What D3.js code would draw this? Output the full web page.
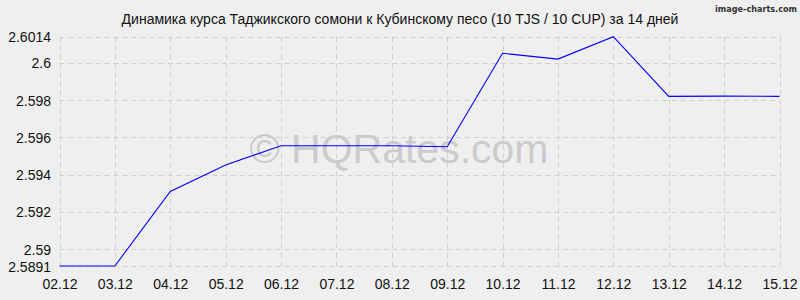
<!DOCTYPE html>
<html><head><meta charset="utf-8">
<script src="https://cdn.jsdelivr.net/npm/d3@7"></script>
<style>body{margin:0;background:#efefef;}svg{display:block;}</style>
</head><body>
<script>
const categories = ["02.12","03.12","04.12","05.12","06.12","07.12","08.12","09.12","10.12","11.12","12.12","13.12","14.12","15.12"];
const values = [2.5891,2.5891,2.5931,2.59452,2.59555,2.59555,2.59555,2.5955,2.60051,2.6002,2.6014,2.5982,2.59821,2.5982];
const yTicks = [2.5891,2.59,2.592,2.594,2.596,2.598,2.6,2.6014];
const yTickLabels = ["2.5891","2.59","2.592","2.594","2.596","2.598","2.6","2.6014"];
const title = "Динамика курса Таджикского сомони к Кубинскому песо (10 TJS / 10 CUP) за 14 дней";

const W=800,H=300;
const svg=d3.select("body").append("svg").attr("width",W).attr("height",H);
svg.append("rect").attr("width",W).attr("height",H).attr("fill","#efefef");

const x=d3.scalePoint().domain(categories).range([59.5,779.5]);
const y=d3.scaleLinear().domain([2.5891,2.6014]).range([266,36.7]);

// watermark
svg.append("text").attr("x",399).attr("y",163).attr("text-anchor","middle")
  .attr("font-family","Liberation Sans, Arial, sans-serif").attr("font-size",41)
  .attr("fill","#cbcbcb").text("© HQRates.com");

// grid
const g=svg.append("g");
g.selectAll("line.h").data(yTicks).join("line")
  .attr("x1",59.5).attr("x2",779.5)
  .attr("y1",d=>Math.round(y(d))+0.5).attr("y2",d=>Math.round(y(d))+0.5)
  .attr("stroke","#cfcfcf").attr("stroke-dasharray","5,4");
g.selectAll("line.v").data(categories).join("line")
  .attr("x1",d=>Math.round(x(d))+0.5).attr("x2",d=>Math.round(x(d))+0.5)
  .attr("y1",36.5).attr("y2",270)
  .attr("stroke","#cfcfcf").attr("stroke-dasharray","5,4");

// y axis labels
const yAxis=d3.axisLeft(y).tickValues(yTicks).tickFormat((d,i)=>yTickLabels[i]).tickSize(0).tickPadding(0);
const ya=svg.append("g").attr("transform","translate(51,0)").call(yAxis);
ya.select(".domain").remove();
ya.selectAll("text").attr("font-family","Liberation Sans, Arial, sans-serif").attr("font-size",14).attr("fill","#111").attr("dy","0.36em");

// x axis labels
const xAxis=d3.axisBottom(x).tickSize(0).tickPadding(0);
const xa=svg.append("g").attr("transform","translate(0,279)").call(xAxis);
xa.select(".domain").remove();
xa.selectAll("text").attr("font-family","Liberation Sans, Arial, sans-serif").attr("font-size",14).attr("fill","#111").attr("dy","0.71em");

// line
svg.append("path").datum(values)
  .attr("d",d3.line().x((d,i)=>x(categories[i])).y(d=>y(d)))
  .attr("fill","none").attr("stroke","#0000ff").attr("stroke-width",1.1);

// title
svg.append("text").attr("x",400).attr("y",24).attr("text-anchor","middle")
  .attr("font-family","Liberation Sans, Arial, sans-serif").attr("font-size",14).attr("fill","#111").text(title);

svg.append("text").attr("x",797).attr("y",12).attr("text-anchor","end")
  .attr("font-family","DejaVu Sans Condensed, DejaVu Sans, sans-serif").attr("font-weight","bold").attr("font-size",9)
  .attr("fill","#333").text("image-charts.com");
</script>
</body></html>
